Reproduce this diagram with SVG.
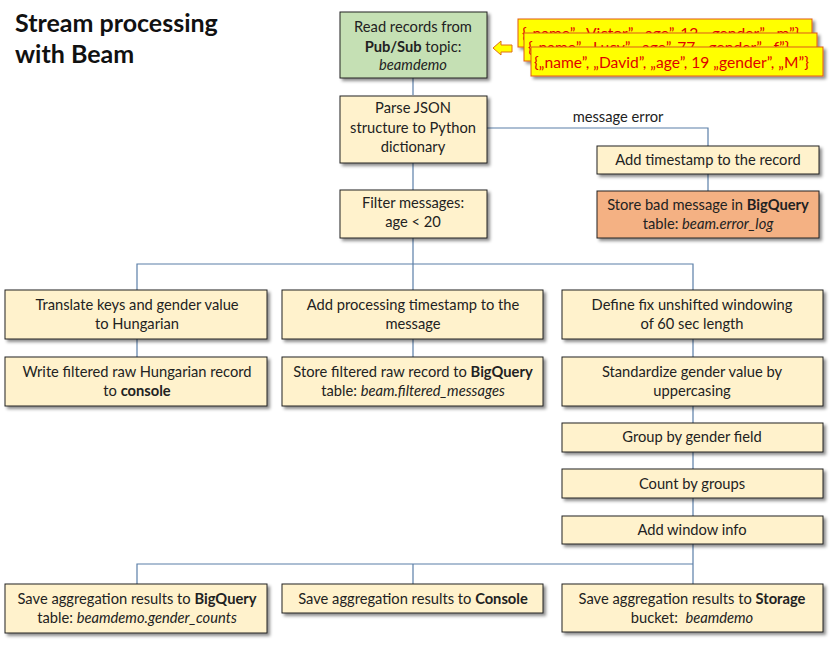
<svg xmlns="http://www.w3.org/2000/svg" width="834" height="645" viewBox="0 0 834 645">
<defs>
<filter id="sh" x="-10%" y="-20%" width="130%" height="160%">
<feDropShadow dx="2.5" dy="2.5" stdDeviation="1.5" flood-color="#000" flood-opacity="0.45"/>
</filter>
</defs>
<style>
text{font-family:Lato,"Open Sans","Liberation Sans",sans-serif;font-size:14.7px;fill:#222;text-anchor:middle}
.box rect{fill:#fff2cc;stroke:#222;stroke-width:1;filter:url(#sh)}
#read rect{fill:#c5e0b4}
#badmsg rect{fill:#f4b183}
.note rect{fill:#ffff00;stroke:#e05a10;stroke-width:1;filter:url(#sh)}
.note text{fill:#e00000;font-size:15.6px;text-anchor:start}
.conn{fill:none;stroke:#5b7fa8;stroke-width:1.2}
.b{font-weight:bold}
.i{font-style:italic}
.title{font-size:25px;font-weight:bold;text-anchor:start;fill:#111}
</style>
<rect width="834" height="645" fill="#fff"/>
<g id="title">
<text class="title" x="15" y="32">Stream processing</text>
<text class="title" x="15" y="63">with Beam</text>
</g>
<g id="connectors">
<path class="conn" d="M413,78V95"/>
<path class="conn" d="M413,163V190"/>
<path class="conn" d="M487,128H708V146"/>
<path class="conn" d="M708,174V191"/>
<path class="conn" d="M413,238V264M137,290V264H693V290M413,264V290"/>
<path class="conn" d="M137,339V357M413,339V357M693,339V357"/>
<path class="conn" d="M693,406V423M693,452V469M693,498V516"/>
<path class="conn" d="M693,544V564M137,584V564H693V584M413,564V584"/>
<text x="618" y="122">message error</text>
</g>
<g id="read" class="box">
<rect x="340" y="12" width="147" height="66"/>
<text x="413" y="32">Read records from</text>
<text x="413" y="52"><tspan class="b">Pub/Sub</tspan> topic:</text>
<text x="413" y="70" class="i">beamdemo</text>
</g>
<g id="notes" class="note">
<polygon points="493,48 501,41 501,45 512,45 512,52 501,52 501,55" fill="#ffff00" stroke="#e07010" stroke-width="1"/>
<g id="note1"><rect x="518" y="19" width="294" height="28"/><text x="522" y="39">{„name”, „Victor”, „age”, 12, „gender”, „m”}</text></g>
<g id="note2"><rect x="524" y="33" width="293" height="28"/><text x="528" y="53">{„name”, „Lucy”, „age”, 77, „gender”, „f”}</text></g>
<g id="note3"><rect x="531" y="47" width="292" height="29"/><text x="534" y="68">{„name”, „David”, „age”, 19 „gender”, „M”}</text></g>
</g>
<g id="parse" class="box">
<rect x="340" y="96" width="147" height="67"/>
<text x="413" y="113">Parse JSON</text>
<text x="413" y="133">structure to Python</text>
<text x="413" y="152">dictionary</text>
</g>
<g id="filter" class="box">
<rect x="340" y="190" width="147" height="48"/>
<text x="413" y="208">Filter messages:</text>
<text x="413" y="227">age &lt; 20</text>
</g>
<g id="addts" class="box">
<rect x="597" y="146" width="222" height="28"/>
<text x="708" y="165">Add timestamp to the record</text>
</g>
<g id="badmsg" class="box">
<rect x="597" y="191" width="222" height="47"/>
<text x="708" y="210">Store bad message in <tspan class="b">BigQuery</tspan></text>
<text x="708" y="229">table: <tspan class="i">beam.error_log</tspan></text>
</g>
<g id="translate" class="box">
<rect x="5" y="290" width="262" height="49"/>
<text x="137" y="310">Translate keys and gender value</text>
<text x="137" y="329">to Hungarian</text>
</g>
<g id="procts" class="box">
<rect x="282" y="290" width="261" height="49"/>
<text x="413" y="310">Add processing timestamp to the</text>
<text x="413" y="329">message</text>
</g>
<g id="window" class="box">
<rect x="562" y="290" width="261" height="49"/>
<text x="692" y="310">Define fix unshifted windowing</text>
<text x="692" y="329">of 60 sec length</text>
</g>
<g id="writeconsole" class="box">
<rect x="5" y="357" width="262" height="49"/>
<text x="137" y="377">Write filtered raw Hungarian record</text>
<text x="137" y="396">to <tspan class="b">console</tspan></text>
</g>
<g id="storefiltered" class="box">
<rect x="282" y="357" width="261" height="49"/>
<text x="413" y="377">Store filtered raw record to <tspan class="b">BigQuery</tspan></text>
<text x="413" y="396">table: <tspan class="i">beam.filtered_messages</tspan></text>
</g>
<g id="standardize" class="box">
<rect x="562" y="357" width="261" height="49"/>
<text x="692" y="377">Standardize gender value by</text>
<text x="692" y="396">uppercasing</text>
</g>
<g id="group" class="box">
<rect x="562" y="423" width="261" height="29"/>
<text x="692" y="442">Group by gender field</text>
</g>
<g id="count" class="box">
<rect x="562" y="469" width="261" height="29"/>
<text x="692" y="489">Count by groups</text>
</g>
<g id="wininfo" class="box">
<rect x="562" y="516" width="261" height="28"/>
<text x="692" y="535">Add window info</text>
</g>
<g id="savebq" class="box">
<rect x="5" y="584" width="262" height="49"/>
<text x="137" y="604">Save aggregation results to <tspan class="b">BigQuery</tspan></text>
<text x="137" y="623">table: <tspan class="i">beamdemo.gender_counts</tspan></text>
</g>
<g id="saveconsole" class="box">
<rect x="282" y="584" width="261" height="29"/>
<text x="413" y="604">Save aggregation results to <tspan class="b">Console</tspan></text>
</g>
<g id="savestorage" class="box">
<rect x="562" y="584" width="261" height="48"/>
<text x="692" y="604">Save aggregation results to <tspan class="b">Storage</tspan></text>
<text x="692" y="623">bucket:&#160; <tspan class="i">beamdemo</tspan></text>
</g>
</svg>
